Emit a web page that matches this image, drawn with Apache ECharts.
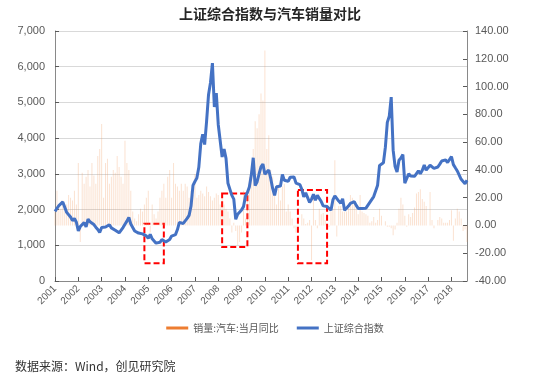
<!DOCTYPE html>
<html><head><meta charset="utf-8">
<script src="https://cdn.jsdelivr.net/npm/echarts@6/dist/echarts.min.js"></script>
<style>html,body{margin:0;padding:0;background:#fff}#c{width:550px;height:381px}</style>
</head><body><div id="c"></div>
<script>
// monthly categories Jan 2001 - Sep 2018
const months = [];
for (let y = 2001; y <= 2018; y++) {
  for (let m = 1; m <= 12; m++) {
    if (y === 2018 && m > 9) break;
    months.push(y + '-' + String(m).padStart(2, '0'));
  }
}
// 上证综合指数 (monthly)
const indexValues = [
  1950,1960,2113,2120,2214,2218,1921,1961,1791,1690,1748,1646,
  1400,1525,1580,1634,1512,1732,1657,1669,1581,1507,1442,1357,
  1499,1511,1510,1521,1576,1487,1476,1421,1367,1348,1397,1497,
  1590,1675,1780,1595,1555,1399,1386,1342,1396,1320,1340,1266,
  1191,1306,1181,1159,1060,1010,1083,1162,1155,1092,1099,1161,
  1258,1299,1298,1440,1641,1672,1612,1658,1752,1837,2099,2675,
  2786,2881,3183,3841,4109,3820,4471,5218,5552,6100,4871,5261,
  4383,4348,3472,3693,3433,2736,2775,2397,2293,1729,1871,1821,
  1991,2082,2373,2477,2633,2959,3450,2668,2779,2996,3195,3277,
  2989,3051,3109,2870,2592,2398,2638,2638,2656,2979,2820,2808,
  2791,2905,2928,2911,2743,2762,2701,2567,2359,2468,2333,2199,
  2292,2429,2263,2397,2373,2225,2103,2047,2086,2069,1980,2269,
  2385,2366,2237,2178,2301,1979,1994,2098,2175,2141,2220,2116,
  2033,2056,2033,2026,2039,2048,2202,2217,2364,2420,2683,3235,
  3210,3310,3748,4442,4612,5150,3664,3206,3053,3383,3445,3539,
  2738,2688,3004,2938,2917,2930,2979,3085,3005,3100,3250,3104,
  3159,3242,3223,3155,3117,3192,3273,3361,3349,3393,3317,3307,
  3481,3259,3169,3082,3095,2847,2876,2725,2821
];
// 销量:汽车:当月同比 (%)
const autoYoY = [
  10,25,15,12,18,10,15,22,20,18,25,15,
  45,-12,38,30,35,40,28,45,36,30,50,55,
  73,20,45,48,30,35,40,38,50,42,35,30,
  61,45,40,25,10,5,3,8,12,10,15,20,
  25,-5,15,8,5,10,20,25,30,20,35,40,
  20,45,30,28,25,30,25,30,28,20,25,22,
  37,20,22,25,23,21,28,24,21,18,20,23,
  22,15,20,15,12,10,5,-5,2,-4,-14,-12,
  -5,25,5,25,35,40,55,75,70,80,95,90,
  126,55,65,40,35,25,15,30,18,28,30,10,
  15,10,5,-2,-5,2,0,8,5,1,2,4,
  -25,22,4,-2,12,8,9,4,0,-1,10,12,
  47,-8,14,14,10,10,10,15,22,20,18,12,
  8,22,10,9,8,7,2,3,6,2,4,12,
  7,0,3,-1,-1,-2,-7,-3,2,12,20,15,
  7,-1,8,6,9,13,23,24,26,19,17,14,
  0,24,4,-2,0,4,6,5,2,2,2,4,
  11,-11,5,12,10,5,-4,-3,-12
];
const seriesNames = ['销量:汽车:当月同比', '上证综合指数'];
// highlighted boxes: [startMonth, endMonth, top, bottom] on index axis
const boxes = [
  ['2004-11', '2005-09', 1600, 500],
  ['2008-03', '2009-04', 2450, 950],
  ['2011-06', '2012-09', 2550, 500]
];

const chart = echarts.init(document.getElementById('c'), null, {renderer: 'canvas'});
const labelColor = '#595959';
const isJan = (i, v) => v.slice(5) === '01';
chart.setOption({
  animation: false,
  title: {
    text: '上证综合指数与汽车销量对比',
    left: 265, top: 2, textAlign: 'center',
    textStyle: {fontFamily: 'Noto Sans CJK SC', fontSize: 14, fontWeight: 'bold', color: '#262626'}
  },
  legend: {
    top: 318, left: 'center', itemGap: 18, itemWidth: 22, itemHeight: 3, icon: 'rect',
    textStyle: {fontFamily: 'Noto Sans CJK SC', fontSize: 10, color: labelColor},
    data: [
      {name: seriesNames[0], itemStyle: {color: '#ED7D31', opacity: 1}},
      {name: seriesNames[1], itemStyle: {color: '#4472C4'}}
    ]
  },
  grid: {left: 55, right: 83, top: 31, bottom: 100},
  xAxis: {
    type: 'category', data: months, boundaryGap: false,
    axisLine: {lineStyle: {color: '#898989', width: 1}},
    axisTick: {inside: true, length: 4, interval: isJan, lineStyle: {color: '#595959'}},
    axisLabel: {interval: isJan, formatter: v => v.slice(0, 4), rotate: 45, margin: 6,
      fontFamily: 'Liberation Sans', fontSize: 10, color: labelColor},
    splitLine: {show: false}
  },
  yAxis: [
    {
      type: 'value', min: 0, max: 7000, interval: 1000,
      axisLine: {show: true, lineStyle: {color: '#898989'}},
      axisTick: {show: true, inside: true, length: 4, lineStyle: {color: '#595959'}},
      axisLabel: {formatter: v => v.toLocaleString('en-US'), fontFamily: 'Liberation Sans', fontSize: 11, color: labelColor, margin: 10},
      splitLine: {lineStyle: {color: '#D9D9D9', width: 1}}
    },
    {
      type: 'value', min: -40, max: 140, interval: 20,
      axisLine: {show: true, lineStyle: {color: '#898989'}},
      axisTick: {show: true, inside: true, length: 4, lineStyle: {color: '#595959'}},
      axisLabel: {formatter: v => v.toFixed(2), fontFamily: 'Liberation Sans', fontSize: 11, color: labelColor, margin: 8},
      splitLine: {show: false}
    }
  ],
  series: [
    {
      name: seriesNames[0], type: 'bar', yAxisIndex: 1, data: autoYoY,
      barWidth: 1, itemStyle: {color: 'rgba(240,150,90,0.28)'}, silent: true
    },
    {
      name: seriesNames[1], type: 'line', yAxisIndex: 0, data: indexValues,
      showSymbol: false, symbol: 'none', lineStyle: {color: '#4472C4', width: 3}, itemStyle: {color: '#4472C4'},
      markArea: {
        silent: true,
        label: {show: false},
        itemStyle: {color: 'rgba(0,0,0,0)', borderColor: '#FF0000', borderWidth: 2, borderType: [6, 3]},
        data: boxes.map(b => [{xAxis: b[0], yAxis: b[2]}, {xAxis: b[1], yAxis: b[3]}])
      }
    }
  ],
  graphic: [{
    type: 'text', left: 15, top: 360,
    style: {text: '数据来源：Wind，创见研究院', fontFamily: 'Noto Sans CJK SC', fontSize: 12, fill: '#333'}
  }]
});
</script></body></html>
